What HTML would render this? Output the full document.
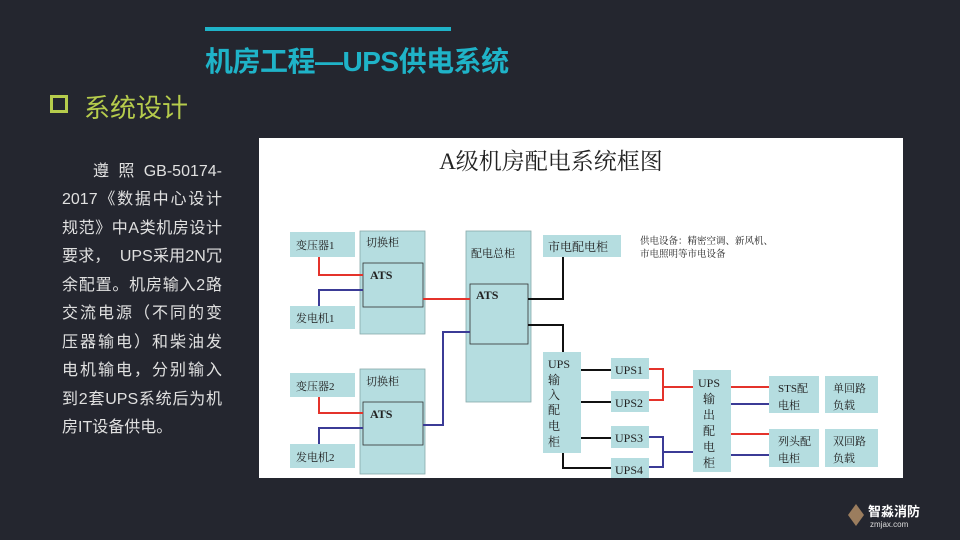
<!DOCTYPE html>
<html><head><meta charset="utf-8"><style>
body{margin:0;width:960px;height:540px;background:#24262f;position:relative;overflow:hidden;font-family:"Liberation Sans","Noto Sans CJK SC",sans-serif}
.t{position:absolute;white-space:nowrap}
.b{position:absolute;left:62px;width:160px;font-size:16px;line-height:20px;color:#e0e0e0;text-align:justify;text-align-last:justify;white-space:nowrap}
</style></head><body>
<div class="t" style="left:205px;top:27px;width:246px;height:4px;background:#1fb3c8"></div>
<div class="t" style="left:205px;top:40px;font-size:28px;font-weight:bold;color:#1fb3c8;letter-spacing:-0.5px">机房工程—UPS供电系统</div>
<div class="t" style="left:50px;top:95px;width:12px;height:12px;border:3px solid #b6cc4c"></div>
<div class="t" style="left:84px;top:88px;font-size:26px;color:#b6cc4c">系统设计</div>
<div class="b" style="top:162px;left:93px;width:129px">遵 照 GB-50174-</div>
<div class="b" style="top:190px">2017《数据中心设计</div>
<div class="b" style="top:219px">规范》中A类机房设计</div>
<div class="b" style="top:247px">要求，&nbsp;&nbsp;UPS采用2N冗</div>
<div class="b" style="top:276px">余配置。机房输入2路</div>
<div class="b" style="top:304px">交流电源（不同的变</div>
<div class="b" style="top:333px">压器输电）和柴油发</div>
<div class="b" style="top:361px">电机输电，分别输入</div>
<div class="b" style="top:390px">到2套UPS系统后为机</div>
<div class="t" style="left:62px;top:418px;font-size:16px;line-height:20px;color:#e0e0e0">房IT设备供电。</div>
<svg class="t" style="left:0;top:0" width="960" height="540" font-family="'Liberation Serif','Noto Serif CJK SC',serif">
<rect x="259" y="138" width="644" height="340" fill="#fff"/>
<text x="551" y="169" font-size="23" text-anchor="middle" fill="#222">A级机房配电系统框图</text>
<g fill="#b5dde0" stroke="#8aa" stroke-width="0.8">
<rect x="290" y="232" width="65" height="25" stroke="none"/>
<rect x="290" y="306" width="65" height="23" stroke="none"/>
<rect x="290" y="373" width="65" height="24" stroke="none"/>
<rect x="290" y="444" width="65" height="24" stroke="none"/>
<rect x="360" y="231" width="65" height="103"/>
<rect x="363" y="263" width="60" height="44" stroke="#333"/>
<rect x="360" y="369" width="65" height="105"/>
<rect x="363" y="402" width="60" height="43" stroke="#333"/>
<rect x="466" y="231" width="65" height="171"/>
<rect x="470" y="284" width="58" height="60" stroke="#333"/>
<rect x="543" y="235" width="78" height="22" stroke="none"/>
<rect x="543" y="352" width="38" height="101" stroke="none"/>
<rect x="611" y="358" width="38" height="21" stroke="none"/>
<rect x="611" y="391" width="38" height="21" stroke="none"/>
<rect x="611" y="426" width="38" height="22" stroke="none"/>
<rect x="611" y="458" width="38" height="20" stroke="none"/>
<rect x="693" y="370" width="38" height="102" stroke="none"/>
<rect x="769" y="376" width="50" height="37" stroke="none"/>
<rect x="825" y="376" width="53" height="37" stroke="none"/>
<rect x="769" y="429" width="50" height="38" stroke="none"/>
<rect x="825" y="429" width="53" height="38" stroke="none"/>
</g>
<g fill="none" stroke-width="2">
<path d="M319 257V275H363M319 397V413H363M423 299H470M649 369H663V400H649M663 387H693M731 387H769M731 434H769" stroke="#e4332b"/>
<path d="M319 306V290H363M319 444V428H363M423 425H443V332H470M649 437H663V467H649M663 452H693M731 404H769M731 455H769" stroke="#3b3b96"/>
<path d="M528 299H563V257M528 325H563V352M581 370H611M581 402H611M581 438H611M563 453V468H611" stroke="#111"/>
</g>
<g font-size="11" fill="#222">
<text x="296" y="249">变压器1</text><text x="296" y="322">发电机1</text>
<text x="296" y="390">变压器2</text><text x="296" y="461">发电机2</text>
<text x="366" y="246">切换柜</text><text x="366" y="385">切换柜</text>
<text x="471" y="257">配电总柜</text>
<text x="548" y="251" font-size="12">市电配电柜</text>
<text x="640" y="244" font-size="9.5">供电设备：精密空调、新风机、</text>
<text x="640" y="257" font-size="9.5">市电照明等市电设备</text>
<text x="778" y="392">STS配</text><text x="778" y="409">电柜</text>
<text x="833" y="392">单回路</text><text x="833" y="409">负载</text>
<text x="778" y="445">列头配</text><text x="778" y="462">电柜</text>
<text x="833" y="445">双回路</text><text x="833" y="462">负载</text>
</g>
<g font-size="12" fill="#222">
<text x="370" y="279" font-weight="bold">ATS</text><text x="370" y="418" font-weight="bold">ATS</text>
<text x="476" y="299" font-weight="bold">ATS</text>
<text x="615" y="374">UPS1</text><text x="615" y="407">UPS2</text>
<text x="615" y="442">UPS3</text><text x="615" y="474">UPS4</text>
<text x="548" y="368">UPS</text><text x="548" y="384">输</text><text x="548" y="399">入</text><text x="548" y="414">配</text><text x="548" y="430">电</text><text x="548" y="446">柜</text>
<text x="698" y="387">UPS</text><text x="703" y="403">输</text><text x="703" y="419">出</text><text x="703" y="435">配</text><text x="703" y="451">电</text><text x="703" y="467">柜</text>
</g>
<path d="M856 504L848 515L856 526L864 515Z" fill="#9b7d5e"/>
<text x="868" y="516" font-size="13" font-weight="bold" fill="#fff" font-family="'Liberation Sans','Noto Sans CJK SC',sans-serif">智淼消防</text>
<text x="870" y="527" font-size="8" fill="#ddd" font-family="'Liberation Sans',sans-serif">zmjax.com</text>
</svg>
</body></html>
